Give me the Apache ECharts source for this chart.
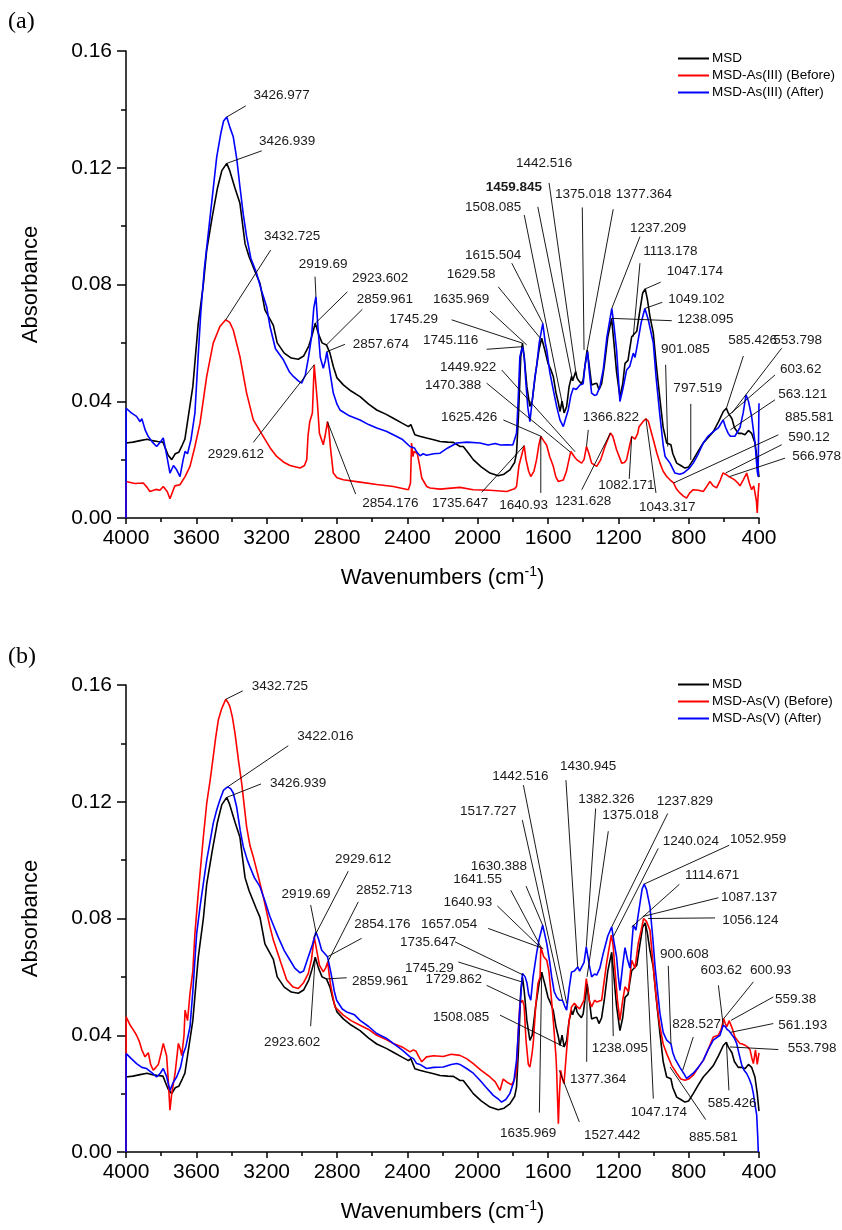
<!DOCTYPE html>
<html>
<head>
<meta charset="utf-8">
<title>FTIR spectra of MSD before and after arsenic adsorption</title>
<script src="https://cdn.jsdelivr.net/npm/echarts@6/dist/echarts.min.js"></script>
<style>
  html, body { margin: 0; padding: 0; background: #fff; }
  #chart { width: 842px; height: 1230px; }
</style>
</head>
<body>
<div id="chart"></div>
<script>
// ---------- spectra: [wavenumber (cm-1), absorbance] ----------
const msdSpectrum = [
  [4000,0.0257],[3960,0.026],[3920,0.0265],[3880,0.027],[3850,0.0265],[3820,0.0262],[3790,0.026],[3760,0.0215],
  [3740,0.020],[3720,0.022],[3700,0.0225],[3680,0.025],[3665,0.027],[3650,0.033],[3620,0.045],[3589,0.0667],
  [3560,0.080],[3541,0.0918],[3510,0.103],[3480,0.113],[3455,0.119],[3426.939,0.1215],[3410,0.119],[3380,0.113],
  [3352,0.1078],[3323,0.094],[3300,0.0895],[3285,0.0873],[3260,0.0835],[3238,0.0804],[3210,0.0713],[3162,0.066],
  [3140,0.060],[3100,0.0565],[3060,0.0548],[3020,0.0544],[2990,0.0555],[2960,0.059],[2940,0.063],[2923.602,0.0667],
  [2905,0.063],[2885,0.060],[2859.961,0.0593],[2840,0.0565],[2821,0.0519],[2800,0.048],[2764,0.0456],[2720,0.0435],
  [2669,0.0416],[2620,0.039],[2574,0.037],[2520,0.0355],[2480,0.0342],[2430,0.0325],[2394,0.0313],[2380,0.032],
  [2370,0.0318],[2357,0.0285],[2330,0.028],[2291,0.0274],[2250,0.0268],[2214,0.0262],[2170,0.026],[2138,0.0259],
  [2100,0.0245],[2082,0.0245],[2050,0.022],[2025,0.020],[1980,0.0175],[1930,0.0154],[1883,0.0145],[1850,0.015],
  [1817,0.0165],[1790,0.019],[1779,0.0222],[1768,0.035],[1755,0.055],[1745.29,0.0599],[1735,0.055],[1720,0.045],
  [1703,0.0382],[1690,0.040],[1670,0.050],[1650,0.058],[1635.969,0.0616],[1620,0.058],[1600,0.053],[1585,0.051],
  [1570,0.0485],[1555,0.043],[1541,0.0394],[1532,0.0365],[1520,0.040],[1508.085,0.036],[1494,0.0382],[1480,0.045],
  [1466,0.0485],[1459.845,0.047],[1442.516,0.0502],[1435,0.048],[1428,0.0473],[1410,0.046],[1400,0.0473],[1390,0.052],
  [1377.364,0.0576],[1365,0.052],[1352,0.0456],[1335,0.046],[1323,0.0462],[1310,0.044],[1295,0.046],[1280,0.052],
  [1260,0.062],[1238.095,0.0684],[1225,0.060],[1210,0.050],[1191,0.0416],[1175,0.046],[1162,0.053],[1145,0.054],
  [1135,0.058],[1124,0.0621],[1113.178,0.062],[1095,0.064],[1080,0.070],[1062,0.077],[1047.174,0.0785],[1035,0.075],
  [1020,0.069],[1001,0.0633],[985,0.053],[963,0.0405],[945,0.031],[925,0.0257],[901.085,0.0251],[890,0.022],
  [868,0.0188],[845,0.018],[821,0.0171],[800,0.0175],[774,0.020],[745,0.023],[717,0.0257],[690,0.0275],
  [660,0.0296],[630,0.033],[603,0.0365],[585.426,0.0376],[575,0.036],[565,0.0359],[553.798,0.034],[540,0.031],
  [518,0.029],[500,0.029],[480,0.0285],[460,0.030],[442,0.029],[423,0.0257],[410,0.020],[400,0.014]
];

const as3BeforeSpectrum = [
  [4000,0],[3999,0.0125],[3950,0.0118],[3902,0.012],[3880,0.0105],[3864,0.0091],[3830,0.0098],[3807,0.0095],
  [3788,0.0108],[3765,0.009],[3750,0.0066],[3735,0.009],[3722,0.011],[3693,0.0114],[3664,0.0142],[3636,0.0177],
  [3608,0.0245],[3579,0.0325],[3541,0.0485],[3504,0.0599],[3466,0.0656],[3432.725,0.0679],[3410,0.067],[3390,0.0644],
  [3352,0.0553],[3314,0.0428],[3276,0.0336],[3240,0.030],[3219,0.0279],[3180,0.024],[3143,0.0211],[3100,0.019],
  [3067,0.018],[3010,0.0171],[2985,0.018],[2972,0.020],[2965,0.028],[2955,0.033],[2940,0.036],[2929.612,0.0525],
  [2912,0.040],[2900,0.029],[2878,0.0251],[2868,0.028],[2854.176,0.033],[2846,0.030],[2836,0.0234],[2821,0.0154],
  [2800,0.0138],[2764,0.0131],[2669,0.0123],[2574,0.0115],[2480,0.0108],[2394,0.0097],[2382,0.012],[2376,0.0257],
  [2368,0.021],[2362,0.0228],[2344,0.0222],[2330,0.018],[2318,0.0137],[2290,0.0108],[2271,0.0103],[2214,0.0099],
  [2101,0.0105],[2025,0.0097],[1930,0.0095],[1835,0.0091],[1790,0.010],[1779,0.0108],[1765,0.018],[1735.647,0.0248],
  [1725,0.020],[1710,0.016],[1698,0.0142],[1680,0.016],[1665,0.020],[1652,0.025],[1640.93,0.0279],[1625.426,0.0265],
  [1608,0.025],[1590,0.021],[1570,0.0177],[1555,0.014],[1541,0.0125],[1513,0.013],[1495,0.016],[1485,0.0188],
  [1470.388,0.0228],[1449.922,0.021],[1437,0.020],[1409,0.0188],[1395,0.020],[1381,0.0245],[1366.822,0.022],[1352,0.0188],
  [1323,0.0177],[1300,0.020],[1276,0.0245],[1245,0.0291],[1231.628,0.028],[1210,0.0234],[1181,0.0188],[1165,0.019],
  [1153,0.020],[1135,0.025],[1124,0.0279],[1105,0.027],[1090,0.029],[1082.171,0.0313],[1060,0.033],[1043.317,0.034],
  [1029,0.0331],[1015,0.030],[1001,0.0268],[980,0.022],[963,0.0188],[945,0.016],[925,0.0142],[905,0.013],
  [885.581,0.012],[870,0.010],[850,0.0086],[830,0.0075],[812,0.0068],[795,0.0085],[774,0.0097],[745,0.0095],
  [717,0.0091],[695,0.011],[679,0.0125],[660,0.011],[641,0.0103],[620,0.013],[605,0.0154],[590.12,0.015],
  [566.978,0.014],[550,0.0135],[537,0.013],[520,0.012],[508,0.011],[490,0.013],[470,0.0154],[455,0.012],
  [442,0.0097],[430,0.011],[423,0.011],[415,0.006],[410,0.0017],[405,0.008],[400,0.012]
];

const as3AfterSpectrum = [
  [4000,0],[3999,0.0376],[3970,0.036],[3940,0.0348],[3920,0.033],[3910,0.034],[3890,0.030],[3873,0.0279],
  [3850,0.026],[3826,0.0245],[3805,0.026],[3788,0.0274],[3770,0.022],[3750,0.0154],[3730,0.018],[3712,0.0165],
  [3693,0.0142],[3675,0.020],[3664,0.0228],[3650,0.022],[3630,0.027],[3608,0.036],[3590,0.055],[3575,0.070],
  [3555,0.085],[3522,0.103],[3500,0.115],[3484,0.1237],[3460,0.132],[3445,0.136],[3426.977,0.1374],[3410,0.134],
  [3390,0.1306],[3370,0.123],[3352,0.1135],[3333,0.104],[3314,0.0964],[3290,0.089],[3257,0.0838],[3230,0.078],
  [3200,0.0724],[3181,0.0656],[3150,0.058],[3105,0.0542],[3070,0.050],[3048,0.0485],[3020,0.047],[3001,0.0462],
  [2980,0.049],[2963,0.0547],[2945,0.062],[2932,0.072],[2919.69,0.0758],[2908,0.065],[2895,0.055],[2878,0.0513],
  [2866,0.054],[2857.674,0.057],[2840,0.050],[2821,0.0428],[2800,0.039],[2783,0.037],[2730,0.035],[2669,0.0336],
  [2620,0.032],[2574,0.0308],[2520,0.0297],[2480,0.0285],[2430,0.027],[2385,0.0245],[2360,0.024],[2345,0.0225],
  [2328,0.0213],[2310,0.022],[2291,0.0215],[2250,0.022],[2214,0.0222],[2170,0.024],[2119,0.0257],[2060,0.026],
  [1987,0.0257],[1940,0.025],[1900,0.0255],[1870,0.025],[1835,0.0251],[1800,0.025],[1779,0.029],[1770,0.040],
  [1760,0.0553],[1745.116,0.0587],[1735,0.055],[1727,0.0473],[1715,0.038],[1703,0.033],[1690,0.040],[1675,0.048],
  [1665,0.0519],[1650,0.060],[1629.58,0.0667],[1615.504,0.060],[1607,0.0576],[1590,0.050],[1570,0.0439],[1550,0.038],
  [1532,0.0336],[1513,0.0313],[1500,0.034],[1485,0.037],[1470,0.042],[1456,0.0445],[1440,0.044],[1418,0.0456],
  [1400,0.046],[1390,0.052],[1375.018,0.057],[1365,0.050],[1352,0.0428],[1335,0.042],[1323,0.0422],[1305,0.045],
  [1286,0.0507],[1265,0.062],[1237.209,0.0718],[1225,0.066],[1210,0.0576],[1191,0.0399],[1175,0.044],[1153,0.0507],
  [1135,0.052],[1115,0.0565],[1105,0.055],[1090,0.060],[1070,0.067],[1049.102,0.0718],[1030,0.068],[1001,0.0599],
  [985,0.048],[963,0.0348],[945,0.025],[934,0.0211],[906,0.0188],[878,0.0154],[850,0.015],[830,0.0154],
  [797.519,0.017],[774,0.0188],[745,0.022],[717,0.0257],[690,0.028],[660,0.0296],[630,0.031],[603.62,0.0336],
  [590,0.031],[575,0.029],[563.121,0.028],[537,0.028],[508,0.031],[490,0.036],[474,0.0422],[460,0.040],
  [442,0.0348],[423,0.026],[410,0.016],[405,0.0142],[401,0.035],[400,0.0393]
];

const as5BeforeSpectrum = [
  [4000,0],[3999,0.0463],[3976,0.0434],[3960,0.042],[3940,0.040],[3925,0.038],[3910,0.035],[3892,0.0326],
  [3873,0.034],[3860,0.030],[3845,0.028],[3830,0.029],[3816,0.030],[3800,0.034],[3788,0.0372],[3769,0.033],
  [3760,0.025],[3750,0.0143],[3740,0.020],[3721,0.0269],[3702,0.0372],[3690,0.035],[3683,0.033],[3670,0.040],
  [3664,0.0486],[3650,0.045],[3636,0.0543],[3620,0.062],[3608,0.0749],[3590,0.088],[3579,0.0954],[3560,0.108],
  [3541,0.1194],[3520,0.128],[3504,0.1354],[3490,0.142],[3475,0.148],[3455,0.152],[3432.725,0.1551],[3420,0.154],
  [3409,0.1526],[3395,0.149],[3380,0.1434],[3360,0.134],[3342,0.1263],[3314,0.1114],[3295,0.105],[3276,0.1011],
  [3250,0.095],[3219,0.0874],[3181,0.0771],[3162,0.0726],[3120,0.065],[3086,0.0589],[3050,0.0565],[3020,0.056],
  [2990,0.058],[2963,0.0612],[2945,0.066],[2929.612,0.0737],[2912,0.068],[2900,0.064],[2878,0.0617],[2865,0.063],
  [2852.713,0.0651],[2845,0.061],[2836,0.0571],[2812,0.0497],[2764,0.0469],[2720,0.045],[2669,0.0434],[2620,0.042],
  [2574,0.040],[2520,0.0385],[2480,0.0372],[2430,0.036],[2385,0.0343],[2366,0.035],[2350,0.0345],[2338,0.033],
  [2318,0.0309],[2291,0.0326],[2250,0.033],[2196,0.0327],[2150,0.0335],[2101,0.0331],[2063,0.032],[2025,0.0303],
  [1980,0.028],[1930,0.0257],[1900,0.024],[1873,0.0211],[1855,0.025],[1835,0.024],[1807,0.023],[1790,0.025],
  [1779,0.028],[1770,0.040],[1760,0.0509],[1745,0.052],[1735.647,0.050],[1725,0.0383],[1712,0.030],[1703,0.0291],
  [1690,0.034],[1683,0.038],[1670,0.050],[1657.054,0.0577],[1645,0.060],[1640.93,0.0703],[1625,0.067],[1607,0.0657],
  [1595,0.062],[1588,0.0577],[1570,0.0451],[1555,0.033],[1551,0.028],[1544,0.015],[1541,0.0097],[1535,0.020],
  [1527.442,0.028],[1518,0.025],[1509,0.0234],[1494,0.0349],[1480,0.045],[1466,0.0497],[1450,0.051],[1437,0.050],
  [1420,0.049],[1409,0.0486],[1395,0.052],[1382,0.0594],[1375.018,0.056],[1365,0.052],[1352,0.0497],[1335,0.052],
  [1323,0.0514],[1295,0.052],[1267,0.0646],[1240.024,0.0743],[1230,0.071],[1219,0.0623],[1205,0.052],[1191,0.0451],
  [1175,0.052],[1162,0.0566],[1143,0.055],[1124,0.0657],[1105,0.063],[1087.137,0.0714],[1070,0.076],[1056.124,0.080],
  [1040,0.079],[1020,0.076],[1005,0.066],[991,0.0566],[975,0.048],[963,0.0429],[945,0.037],[925,0.0337],
  [897,0.0297],[868,0.027],[845,0.025],[821,0.0246],[800,0.025],[774,0.0263],[745,0.029],[717,0.0314],
  [690,0.035],[660,0.0394],[632,0.040],[615,0.042],[600.93,0.0457],[592,0.044],[582,0.043],[570,0.045],
  [559.38,0.0451],[550,0.042],[537,0.0394],[520,0.038],[508,0.0372],[495,0.037],[480,0.0366],[465,0.036],
  [451,0.035],[440,0.032],[432,0.0303],[420,0.035],[410,0.030],[400,0.034]
];

const as5AfterSpectrum = [
  [4000,0],[3999,0.0337],[3970,0.032],[3940,0.0303],[3910,0.029],[3883,0.0286],[3850,0.027],[3826,0.0257],
  [3805,0.027],[3788,0.0286],[3770,0.026],[3750,0.0211],[3730,0.024],[3712,0.0257],[3690,0.029],[3674,0.0337],
  [3660,0.036],[3636,0.0429],[3620,0.055],[3598,0.0749],[3579,0.084],[3560,0.092],[3541,0.100],[3520,0.107],
  [3504,0.1126],[3485,0.117],[3466,0.1206],[3445,0.124],[3422.016,0.1251],[3405,0.1245],[3390,0.123],[3371,0.1183],
  [3350,0.110],[3333,0.1046],[3310,0.100],[3295,0.0977],[3270,0.094],[3238,0.0909],[3210,0.086],[3181,0.0806],
  [3135,0.0737],[3100,0.069],[3067,0.0657],[3040,0.063],[3010,0.0614],[2990,0.062],[2963,0.0669],[2940,0.071],
  [2919.69,0.0754],[2905,0.073],[2887,0.0691],[2870,0.068],[2854.176,0.0669],[2840,0.063],[2830,0.060],[2815,0.055],
  [2802,0.052],[2770,0.049],[2745,0.048],[2700,0.047],[2669,0.0451],[2620,0.043],[2574,0.0406],[2520,0.039],
  [2480,0.0372],[2430,0.035],[2385,0.0326],[2365,0.032],[2347,0.0303],[2328,0.030],[2291,0.0286],[2250,0.029],
  [2196,0.0291],[2150,0.030],[2119,0.0303],[2101,0.030],[2063,0.0286],[2025,0.027],[1987,0.0246],[1950,0.022],
  [1911,0.0194],[1880,0.018],[1864,0.0171],[1840,0.018],[1817,0.020],[1795,0.024],[1779,0.0314],[1770,0.040],
  [1760,0.0497],[1745.29,0.0612],[1730,0.060],[1720,0.058],[1710,0.054],[1698,0.052],[1685,0.060],[1665,0.068],
  [1650,0.073],[1630.388,0.0777],[1620,0.075],[1607,0.0714],[1590,0.065],[1579,0.060],[1565,0.055],[1551,0.0531],
  [1535,0.052],[1517.727,0.052],[1505,0.050],[1494,0.0486],[1480,0.056],[1466,0.0617],[1450,0.062],[1430.945,0.0634],
  [1420,0.062],[1409,0.0617],[1395,0.065],[1382.326,0.0703],[1365,0.064],[1352,0.060],[1335,0.061],[1323,0.0606],
  [1305,0.063],[1286,0.068],[1260,0.074],[1237.829,0.0771],[1225,0.072],[1210,0.0669],[1200,0.060],[1191,0.0554],
  [1175,0.064],[1162,0.070],[1148,0.066],[1134,0.063],[1125,0.070],[1114.671,0.0777],[1100,0.076],[1085,0.082],
  [1065,0.090],[1052.959,0.0918],[1040,0.090],[1020,0.084],[1005,0.074],[991,0.0634],[975,0.054],[963,0.0474],
  [945,0.041],[925,0.0383],[900.608,0.037],[890,0.034],[878,0.032],[850,0.029],[828.527,0.027],[812,0.0252],
  [795,0.026],[774,0.027],[745,0.029],[717,0.0314],[690,0.035],[660,0.0383],[622,0.040],[603.62,0.0434],
  [592,0.043],[582,0.042],[570,0.0415],[561.193,0.041],[540,0.039],[527,0.0372],[515,0.034],[499,0.030],
  [485,0.028],[470,0.0269],[455,0.025],[442,0.0229],[432,0.020],[423,0.0163],[413,0.0126],[407,0.005],
  [404,0],[400,0]
];

// ---------- axes ----------
const xTickValues = [4000, 3600, 3200, 2800, 2400, 2000, 1600, 1200, 800, 400];
const yTickValues = [0, 0.04, 0.08, 0.12, 0.16];

const legendA = ['MSD', 'MSD-As(III) (Before)', 'MSD-As(III) (After)'];
const legendB = ['MSD', 'MSD-As(V) (Before)', 'MSD-As(V) (After)'];

// ---------- peak annotations ----------
// [label, point on the curve, end of the leader, left/middle of the label] (data units)
const peakNotesA = [
  ['3426.977', [3426.977,0.1374], [3319,0.1412], [3275,0.1449]],
  ['3426.939', [3426.939,0.1215], [3228,0.1258], [3244,0.1292]],
  ['3432.725', [3432.725,0.0679], [3177,0.0918], [3215,0.0964]],
  ['2919.69',  [2919.69,0.0758],  [2925,0.0827], [3018,0.0869]],
  ['2923.602', [2923.602,0.0667], [2741,0.0775], [2715,0.0820]],
  ['2859.961', [2859.961,0.0593], [2656,0.0715], [2688,0.0751]],
  ['2857.674', [2857.674,0.0570], [2755,0.0595], [2711,0.0595]],
  ['2929.612', [2929.612,0.0525], [3276,0.0259], [3535,0.0219]],
  ['2854.176', [2854.176,0.0330], [2694,0.0082], [2656,0.0049]],
  ['1735.647', [1735.647,0.0248], [1977,0.0088], [2260,0.0049]],
  ['1640.93',  [1640.93,0.0279],  [1641,0.0086], [1877,0.0043]],
  ['1231.628', [1245,0.0291],     [1408,0.0097], [1560,0.0057]],
  ['1082.171', [1124,0.0279],     [1138,0.0134], [1314,0.0111]],
  ['1043.317', [1043.317,0.0340], [986,0.0086],  [1082,0.0038]],
  ['1366.822', [1381,0.0245],     [1371,0.0302], [1403,0.0346]],
  ['1625.426', [1636,0.0279],     [1854,0.0336], [2209,0.0346]],
  ['1470.388', [1475,0.0227],     [1949,0.0462], [2300,0.0453]],
  ['1449.922', [1446,0.0227],     [1863,0.0507], [2214,0.0515]],
  ['1745.116', [1745.116,0.0587], [1949,0.0578], [2311,0.0608]],
  ['1745.29',  [1745.29,0.0599],  [2148,0.0679], [2503,0.0681]],
  ['1635.969', [1721,0.0593],     [1930,0.0709], [2254,0.0749]],
  ['1629.58',  [1645,0.0617],     [1883,0.0792], [2176,0.0835]],
  ['1615.504', [1629.58,0.0667],  [1806,0.0873], [2072,0.0899]],
  ['1508.085', [1508.085,0.0360], [1735,0.1038], [2072,0.1063]],
  ['1459.845', [1459.845,0.0470], [1658,0.1066], [1954,0.1133], true],
  ['1442.516', [1442.516,0.0502], [1594,0.1148], [1782,0.1215]],
  ['1375.018', [1395,0.0576],     [1405,0.1064], [1560,0.1110]],
  ['1377.364', [1377.364,0.0576], [1229,0.1058], [1215,0.1110]],
  ['1237.209', [1237.209,0.0718], [1077,0.0964], [1134,0.0992]],
  ['1113.178', [1115,0.0621],     [1077,0.0873], [1058,0.0915]],
  ['1047.174', [1047.174,0.0785], [959,0.0808],  [925,0.0846]],
  ['1049.102', [1049.102,0.0718], [950,0.0739],  [916,0.0750]],
  ['1238.095', [1238.095,0.0684], [896,0.0676],  [865,0.0681]],
  ['901.085',  [919,0.0245],      [931,0.0525],  [957,0.0579]],
  ['797.519',  [788,0.0199],      [788,0.0391],  [887,0.0445]],
  ['585.426',  [585.426,0.0376],  [489,0.0555],  [575,0.0608]],
  ['553.798',  [555,0.0359],      [271,0.0582],  [319,0.0608]],
  ['603.62',   [603.62,0.0336],   [309,0.0490],  [280,0.0510]],
  ['563.121',  [563.121,0.0302],  [309,0.0405],  [290,0.0424]],
  ['885.581',  [885.581,0.0120],  [290,0.0285],  [252,0.0346]],
  ['590.12',   [590.12,0.0154],   [271,0.0251],  [233,0.0277]],
  ['566.978',  [566.978,0.0142],  [252,0.0205],  [211,0.0213]]
];

const peakNotesB = [
  ['3432.725', [3432.725,0.1551], [3336,0.1580], [3285,0.1597]],
  ['3422.016', [3422.016,0.1251], [3077,0.1392], [3026,0.1423]],
  ['3426.939', [3426.939,0.1215], [3232,0.1261], [3181,0.1263]],
  ['2929.612', [2929.612,0.0737], [2736,0.0962], [2811,0.1003]],
  ['2919.69',  [2919.69,0.0754],  [2950,0.0846], [3115,0.0882]],
  ['2852.713', [2852.713,0.0651], [2679,0.0857], [2692,0.0897]],
  ['2854.176', [2854.176,0.0669], [2660,0.0732], [2702,0.0781]],
  ['2859.961', [2859.961,0.0593], [2745,0.0597], [2715,0.0585]],
  ['2923.602', [2923.602,0.0667], [2950,0.0431], [3215,0.0377]],
  ['1442.516', [1494,0.0509],     [1740,0.1257], [1917,0.1286]],
  ['1430.945', [1430.945,0.0634], [1498,0.1274], [1532,0.1320]],
  ['1382.326', [1382.326,0.0703], [1329,0.1177], [1428,0.1209]],
  ['1375.018', [1378,0.0600],     [1257,0.1099], [1291,0.1152]],
  ['1517.727', [1517.727,0.0520], [1746,0.1137], [2100,0.1166]],
  ['1237.829', [1237.829,0.0771], [919,0.1160],  [982,0.1200]],
  ['1240.024', [1229,0.0737],     [973,0.1040],  [948,0.1065]],
  ['1052.959', [1052.959,0.0918], [569,0.1051],  [565,0.1071]],
  ['1114.671', [1124,0.0771],     [853,0.0917],  [821,0.0948]],
  ['1087.137', [1060,0.0807],     [631,0.0871],  [616,0.0871]],
  ['1056.124', [1030,0.0800],     [650,0.0802],  [609,0.0794]],
  ['1630.388', [1630.388,0.0777], [1725,0.0911], [2040,0.0980]],
  ['1641.55',  [1640.93,0.0703],  [1812,0.0897], [2139,0.0934]],
  ['1640.93',  [1645,0.0702],     [1888,0.0843], [2195,0.0854]],
  ['1657.054', [1627,0.0697],     [1940,0.0766], [2322,0.0781]],
  ['1735.647', [1740,0.0606],     [2129,0.0720], [2442,0.0720]],
  ['1745.29',  [1750,0.0583],     [2110,0.0651], [2413,0.0631]],
  ['1729.862', [1750,0.0514],     [1949,0.0571], [2296,0.0591]],
  ['1508.085', [1508.085,0.0360], [1873,0.0469], [2254,0.0463]],
  ['1635.969', [1635.969,0.0616], [1649,0.0135], [1873,0.0065]],
  ['1527.442', [1536,0.0280],     [1422,0.0103], [1395,0.0057]],
  ['1377.364', [1377.364,0.0576], [1380,0.0309], [1475,0.0248]],
  ['1238.095', [1238.095,0.0684], [1229,0.0397], [1351,0.0357]],
  ['1047.174', [1047.174,0.0785], [1001,0.0183], [1130,0.0137]],
  ['900.608',  [900.608,0.0370],  [916,0.0638],  [963,0.0677]],
  ['885.581',  [906,0.0291],      [703,0.0111],  [798,0.0049]],
  ['828.527',  [834,0.0280],      [774,0.0394],  [893,0.0438]],
  ['603.62',   [603.62,0.0434],   [631,0.0571],  [732,0.0621]],
  ['600.93',   [600.93,0.0457],   [432,0.0583],  [451,0.0621]],
  ['559.38',   [559.38,0.0451],   [319,0.0531],  [309,0.0522]],
  ['561.193',  [561.193,0.0410],  [319,0.0440],  [290,0.0434]],
  ['553.798',  [565,0.0360],      [290,0.0351],  [237,0.0354]],
  ['585.426',  [585.426,0.0376],  [571,0.0211],  [692,0.0168]]
];

// ---------- chart ----------
const FONT = '"Liberation Sans", Arial, Helvetica, sans-serif';
const SERIF = '"Liberation Serif", "Times New Roman", serif';
const BLACK = '#000000', RED = '#ff0000', BLUE = '#0000ff';

const grids = [
  { left: 126, width: 633, top: 51, height: 467 },
  { left: 126, width: 633, top: 685, height: 467 }
];

function xAxisFor(gi) {
  return {
    gridIndex: gi, type: 'value', inverse: true,
    min: xTickValues[xTickValues.length - 1], max: xTickValues[0], interval: 400,
    name: '{a|Wavenumbers (cm}{s|-1}{a|)}', nameLocation: 'middle', nameGap: 47,
    nameTextStyle: {
      rich: {
        a: { fontSize: 22, fontFamily: FONT, color: '#000', lineHeight: 26 },
        s: { fontSize: 14, fontFamily: FONT, color: '#000', verticalAlign: 'top', lineHeight: 14 }
      }
    },
    axisLine: { show: true, onZero: false, lineStyle: { color: '#000', width: 1.5 } },
    axisTick: { show: true, inside: false, length: 6, lineStyle: { color: '#000', width: 1.5 } },
    minorTick: { show: true, splitNumber: 2, length: 4, lineStyle: { color: '#000', width: 1.5 } },
    axisLabel: { color: '#000', fontSize: 21, fontFamily: FONT, margin: 10, formatter: v => String(v) },
    splitLine: { show: false }, minorSplitLine: { show: false }
  };
}
function yAxisFor(gi) {
  return {
    gridIndex: gi, type: 'value',
    min: yTickValues[0], max: yTickValues[yTickValues.length - 1], interval: 0.04,
    name: 'Absorbance', nameLocation: 'middle', nameGap: 84,
    nameTextStyle: { fontSize: 22, fontFamily: FONT, color: '#000' },
    axisLine: { show: true, onZero: false, lineStyle: { color: '#000', width: 1.5 } },
    axisTick: { show: true, inside: false, length: 9, lineStyle: { color: '#000', width: 1.5 } },
    minorTick: { show: true, splitNumber: 2, length: 5, lineStyle: { color: '#000', width: 1.5 } },
    axisLabel: { color: '#000', fontSize: 21, fontFamily: FONT, margin: 14, formatter: v => v.toFixed(2) },
    splitLine: { show: false }, minorSplitLine: { show: false }
  };
}
function spectrum(name, data, color, gi) {
  return {
    name, type: 'line', data, xAxisIndex: gi, yAxisIndex: gi,
    showSymbol: false, symbol: 'none', smooth: false,
    lineStyle: { color, width: 1.6 }, itemStyle: { color },
    emphasis: { disabled: true }, silent: true, z: 3
  };
}
function legendFor(names, top) {
  return {
    data: names, orient: 'vertical', left: 673, top,
    icon: 'rect', itemWidth: 31, itemHeight: 2, itemGap: 2,
    textStyle: { fontSize: 13.5, fontFamily: FONT, color: '#000', lineHeight: 15, padding: [0, 0, 0, -2] },
    selectedMode: false
  };
}

const chart = echarts.init(document.getElementById('chart'), null, { renderer: 'canvas' });
chart.setOption({
  animation: false,
  backgroundColor: '#ffffff',
  grid: grids,
  xAxis: [xAxisFor(0), xAxisFor(1)],
  yAxis: [yAxisFor(0), yAxisFor(1)],
  legend: [legendFor(legendA, 46), legendFor(legendB, 672)],
  series: [
    spectrum(legendA[0], msdSpectrum, BLACK, 0),
    spectrum(legendA[1], as3BeforeSpectrum, RED, 0),
    spectrum(legendA[2], as3AfterSpectrum, BLUE, 0),
    spectrum(legendB[0], msdSpectrum, BLACK, 1),
    spectrum(legendB[1], as5BeforeSpectrum, RED, 1),
    spectrum(legendB[2], as5AfterSpectrum, BLUE, 1)
  ]
});

// leader lines and peak labels, placed through each panel's own scales
function noteGraphics(notes, gi) {
  const out = [];
  notes.forEach(([label, onCurve, leaderEnd, textAt, bold]) => {
    const a = chart.convertToPixel({ gridIndex: gi }, onCurve);
    const b = chart.convertToPixel({ gridIndex: gi }, leaderEnd);
    const t = chart.convertToPixel({ gridIndex: gi }, textAt);
    out.push({
      type: 'line', silent: true, z: 10,
      shape: { x1: a[0], y1: a[1], x2: b[0], y2: b[1] },
      style: { stroke: '#000', lineWidth: 0.9 }
    });
    out.push({
      type: 'text', silent: true, z: 11, x: t[0], y: t[1],
      style: {
        text: label, fill: '#1a1a1a',
        font: (bold ? 'bold ' : '') + '13.5px ' + FONT,
        textAlign: 'left', textVerticalAlign: 'middle',
        align: 'left', verticalAlign: 'middle'
      }
    });
  });
  return out;
}

chart.setOption({
  graphic: [
    { type: 'text', left: 8, top: 10, silent: true,
      style: { text: '(a)', font: '24px ' + SERIF, fill: '#000' } },
    { type: 'text', left: 8, top: 645, silent: true,
      style: { text: '(b)', font: '24px ' + SERIF, fill: '#000' } },
    ...noteGraphics(peakNotesA, 0),
    ...noteGraphics(peakNotesB, 1)
  ]
});
</script>
</body>
</html>
